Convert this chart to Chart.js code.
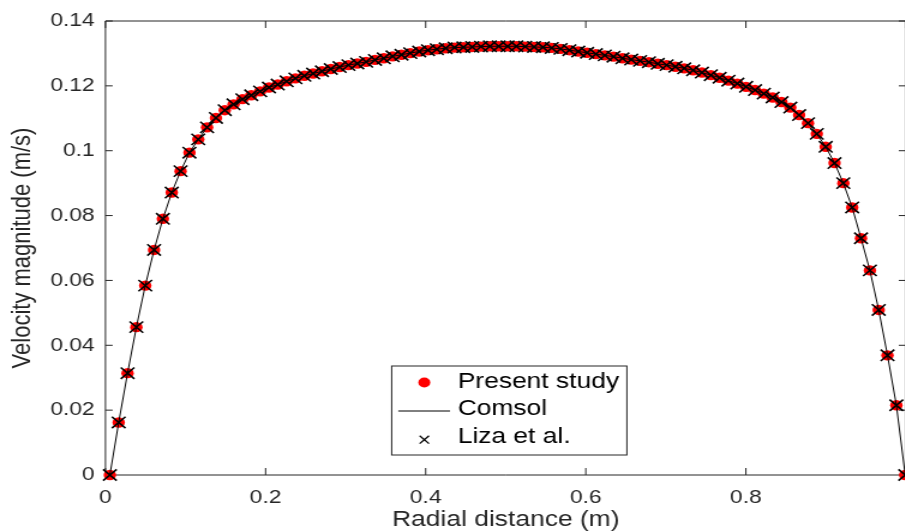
<!DOCTYPE html>
<html>
<head>
<meta charset="utf-8">
<title>Velocity profile</title>
<script src="https://cdn.jsdelivr.net/npm/chart.js@4.4.1/dist/chart.umd.min.js"></script>
<style>
  html, body { margin: 0; padding: 0; background: #fff; overflow: hidden; }
  /* the figure is drawn narrow and stretched sideways, like the exported plot */
  #wrap { width: 757px; height: 531px; transform: scaleX(1.2); transform-origin: 0 0; }
</style>
</head>
<body>
<div id="wrap"><canvas id="chart" width="757" height="531"></canvas></div>
<script>
// radial positions of the sample points (m)
const radialPos = [
  0.0055, 0.0165, 0.0276, 0.0386, 0.0497, 0.0607, 0.0717, 0.0828, 0.0938, 0.1049,
  0.1159, 0.1269, 0.1380, 0.1490, 0.1600, 0.1711, 0.1821, 0.1932, 0.2042, 0.2152,
  0.2263, 0.2373, 0.2484, 0.2594, 0.2704, 0.2815, 0.2925, 0.3035, 0.3146, 0.3256,
  0.3367, 0.3477, 0.3587, 0.3698, 0.3808, 0.3919, 0.4029, 0.4139, 0.4250, 0.4360,
  0.4471, 0.4581, 0.4691, 0.4802, 0.4912, 0.5023, 0.5133, 0.5243, 0.5354, 0.5464,
  0.5575, 0.5685, 0.5795, 0.5906, 0.6016, 0.6126, 0.6237, 0.6347, 0.6458, 0.6568,
  0.6678, 0.6789, 0.6899, 0.7010, 0.7120, 0.7230, 0.7341, 0.7451, 0.7562, 0.7672,
  0.7782, 0.7893, 0.8003, 0.8114, 0.8224, 0.8334, 0.8445, 0.8555, 0.8665, 0.8776,
  0.8886, 0.8997, 0.9107, 0.9217, 0.9328, 0.9438, 0.9549, 0.9659, 0.9769, 0.9880,
  0.9990
];

// velocity magnitude (m/s) - present study
const presentStudy = [
  0.0000, 0.0162, 0.0314, 0.0456, 0.0584, 0.0694, 0.0790, 0.0871, 0.0937, 0.0994,
  0.1035, 0.1072, 0.1101, 0.1125, 0.1143, 0.1159, 0.1171, 0.1183, 0.1195, 0.1204,
  0.1214, 0.1223, 0.1231, 0.1238, 0.1245, 0.1252, 0.1258, 0.1264, 0.1269, 0.1274,
  0.1280, 0.1285, 0.1291, 0.1296, 0.1301, 0.1306, 0.1310, 0.1313, 0.1316, 0.1318,
  0.1319, 0.1320, 0.1321, 0.1322, 0.1322, 0.1322, 0.1322, 0.1321, 0.1320, 0.1319,
  0.1317, 0.1314, 0.1310, 0.1306, 0.1302, 0.1298, 0.1294, 0.1290, 0.1285, 0.1281,
  0.1277, 0.1273, 0.1268, 0.1264, 0.1259, 0.1254, 0.1248, 0.1241, 0.1233, 0.1225,
  0.1216, 0.1207, 0.1197, 0.1187, 0.1176, 0.1164, 0.1150, 0.1133, 0.1110, 0.1085,
  0.1052, 0.1012, 0.0962, 0.0900, 0.0825, 0.0730, 0.0631, 0.0509, 0.0369, 0.0215,
  0.0000
];

// Comsol solution and Liza et al. sit on the same profile
const comsol = presentStudy.slice();
const liza = presentStudy.slice();

const seriesNames = ['Present study', 'Comsol', 'Liza et al.'];
const xTicks = [0, 0.2, 0.4, 0.6, 0.8, 1];
const yTicks = [0, 0.02, 0.04, 0.06, 0.08, 0.1, 0.12, 0.14];

const FONT = '"Liberation Sans", Arial, Helvetica, sans-serif';
const AXIS_COL = '#262626';
Chart.defaults.font.family = FONT;

const pts = vals => radialPos.map((r, i) => ({ x: r, y: vals[i] }));

// box, inward tick marks and the legend
const framePlugin = {
  id: 'frame',
  beforeDatasetsDraw(chart) {
    const { ctx, chartArea: a, scales: { x, y } } = chart;
    ctx.save();
    ctx.strokeStyle = AXIS_COL;
    ctx.lineWidth = 1;
    ctx.beginPath();
    ctx.rect(a.left, a.top, a.right - a.left, a.bottom - a.top);
    xTicks.forEach(v => {
      const px = x.getPixelForValue(v);
      ctx.moveTo(px, a.bottom); ctx.lineTo(px, a.bottom - 7);
      ctx.moveTo(px, a.top); ctx.lineTo(px, a.top + 7);
    });
    yTicks.forEach(v => {
      const py = y.getPixelForValue(v);
      ctx.moveTo(a.left, py); ctx.lineTo(a.left + 6, py);
      ctx.moveTo(a.right, py); ctx.lineTo(a.right - 6, py);
    });
    ctx.stroke();
    ctx.restore();
  },
  afterDraw(chart) {
    const ctx = chart.ctx;
    const L = 326.4, T = 366, W = 196, H = 89;
    ctx.save();
    ctx.fillStyle = '#fff';
    ctx.fillRect(L, T, W, H);
    ctx.strokeStyle = AXIS_COL;
    ctx.lineWidth = 1;
    ctx.strokeRect(L, T, W, H);

    const rows = [387.5, 415, 442.7];
    const mx = 353.6, tx = 381.4;
    // red dot
    ctx.fillStyle = '#ff0000';
    ctx.beginPath();
    ctx.arc(mx, rows[0] - 5, 5, 0, Math.PI * 2);
    ctx.fill();
    // line
    ctx.strokeStyle = '#000';
    ctx.beginPath();
    ctx.moveTo(331.9, rows[1] - 4); ctx.lineTo(375, rows[1] - 4);
    ctx.stroke();
    // cross
    ctx.lineWidth = 1.3;
    Chart.helpers.drawPoint(ctx, { pointStyle: 'crossRot', radius: 5.5, rotation: 0, borderWidth: 1.3 }, mx, rows[2] - 3);

    ctx.fillStyle = '#000';
    ctx.font = '22px ' + FONT;
    ctx.textBaseline = 'alphabetic';
    seriesNames.forEach((s, i) => ctx.fillText(s, tx, rows[i]));
    ctx.restore();
  }
};

new Chart(document.getElementById('chart'), {
  type: 'scatter',
  data: {
    datasets: [
      {
        label: seriesNames[0], data: pts(presentStudy), order: 3, clip: false,
        pointStyle: 'circle', pointRadius: 5.2, backgroundColor: '#ff0000', borderWidth: 0
      },
      {
        label: seriesNames[1], data: pts(comsol), order: 2, clip: false, type: 'line',
        showLine: true, pointRadius: 0, borderColor: '#000', borderWidth: 1, tension: 0, fill: false
      },
      {
        label: seriesNames[2], data: pts(liza), order: 1, clip: false,
        pointStyle: 'crossRot', pointRadius: 8, borderColor: '#000', backgroundColor: '#000',
        pointBorderWidth: 1.6
      }
    ]
  },
  options: {
    responsive: false,
    animation: false,
    devicePixelRatio: 1,
    layout: { autoPadding: false, padding: { top: 21, right: 2, bottom: 0, left: 0 } },
    plugins: { legend: { display: false }, tooltip: { enabled: false } },
    scales: {
      x: {
        type: 'linear', min: 0, max: 1,
        afterBuildTicks: s => { s.ticks = xTicks.map(v => ({ value: v })); },
        afterFit: s => { s.height = 56; s.paddingLeft = 0; s.paddingRight = 0; },
        grid: { display: false, drawTicks: false },
        border: { display: false },
        ticks: {
          padding: 11, color: AXIS_COL, font: { size: 19 }, maxRotation: 0, autoSkip: false,
          callback: v => (v >= 1 ? '' : String(+v.toFixed(1)))
        },
        title: {
          display: true, text: 'Radial distance (m)', color: AXIS_COL,
          font: { size: 22, lineHeight: 1 }, padding: { top: 0, bottom: 0 }
        }
      },
      y: {
        type: 'linear', min: 0, max: 0.14,
        afterBuildTicks: s => { s.ticks = yTicks.map(v => ({ value: v })); },
        afterFit: s => { s.width = 87.9; s.paddingTop = 0; s.paddingBottom = 0; },
        grid: { display: false, drawTicks: false },
        border: { display: false },
        ticks: {
          padding: 9, color: AXIS_COL, font: { size: 19 }, autoSkip: false,
          callback: v => String(+v.toFixed(2))
        },
        title: {
          display: true, text: 'Velocity magnitude (m/s)', color: AXIS_COL,
          font: { size: 22, lineHeight: 1.2 }, padding: { top: 6, bottom: 0 }
        }
      }
    }
  },
  plugins: [framePlugin]
});
</script>
</body>
</html>
